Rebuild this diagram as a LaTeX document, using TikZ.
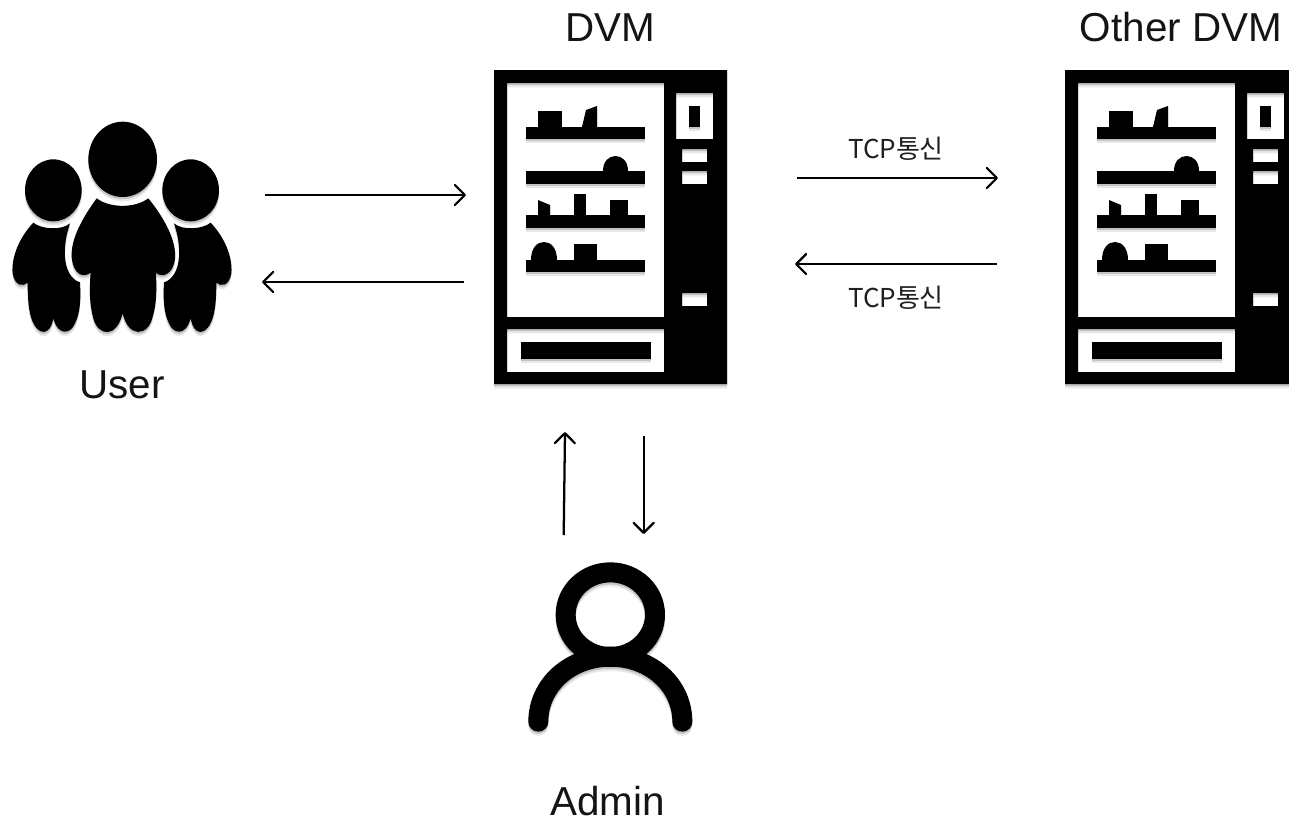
\documentclass[tikz,border=0pt]{standalone}
\usepackage{fontspec}
\setmainfont{Liberation Sans}
\newfontfamily\krfont{Noto Sans CJK KR}
\usetikzlibrary{arrows.meta}
\tikzset{
  x=0.75pt,y=-0.75pt,
  title/.style={inner sep=0pt,anchor=base,font=\fontsize{30.3}{34}\selectfont,text=black!92},
  tcplabel/.style={inner sep=0pt,anchor=base,font=\krfont\fontsize{19.5}{22}\selectfont,text=black!88},
  conn/.style={line width=1.7pt,-{Straight Barb[round,length=7.5pt,width=15pt,line width=1.7pt]}}
}
\newcommand\layered[1]{%
  \def\ic{black!9}\begin{scope}[yshift=-3.2pt]#1\end{scope}%
  \def\ic{black!24}\begin{scope}[yshift=-1.6pt]#1\end{scope}%
  \def\ic{black}#1}
\newcommand\vendingicon{%
  \fill[fill=\ic,even odd rule] (494,70) rectangle (727,384)
    (507,83) rectangle (664,317)
    (507,329) rectangle (664,372)
    (676,93) rectangle (713,139)
    (682,149) rectangle (707,162)
    (682,171) rectangle (707,184)
    (682,293) rectangle (707,306);
  \fill[fill=\ic] (521,342) rectangle (651,359);
  \fill[fill=\ic] (689,106) rectangle (700,127);
  \fill[fill=\ic] (526,127) rectangle (645,139);
  \fill[fill=\ic] (526,171) rectangle (645,184);
  \fill[fill=\ic] (526,215) rectangle (645,228);
  \fill[fill=\ic] (526,260) rectangle (645,272);
  \fill[fill=\ic] (538,111) rectangle (562,127);
  \fill[fill=\ic] (582,127) -- (586,110) -- (597,106) -- (597,127) -- cycle;
  \fill[fill=\ic] (603,171) .. controls (603,161) and (609,156) .. (615.5,156) .. controls (622,156) and (628,161) .. (628,171) -- cycle;
  \fill[fill=\ic] (538,200) -- (550,205) -- (550,215) -- (538,215) -- cycle;
  \fill[fill=\ic] (574,194) rectangle (586,215);
  \fill[fill=\ic] (610,200) rectangle (628,215);
  \fill[fill=\ic] (531,260) .. controls (531,248) and (537,242) .. (544,242) .. controls (551,242) and (557,248) .. (557,260) -- cycle;
  \fill[fill=\ic] (574,244) rectangle (597,260);
}
\newcommand\sideperson{%
  \fill[fill=\ic] (160,241) ellipse[x radius=85,y radius=93];
  \fill[fill=\ic] (100,338) .. controls (125,358) and (185,362) .. (210,340)
    .. controls (200,370) and (193,400) .. (195,440)
    .. controls (197,480) and (215,510) .. (240,517)
    .. controls (243,570) and (240,610) .. (225,640)
    .. controls (212,672) and (175,680) .. (160,625)
    .. controls (150,680) and (115,675) .. (98,635)
    .. controls (85,605) and (83,560) .. (83,518)
    .. controls (70,530) and (45,530) .. (38,490)
    .. controls (33,440) and (60,380) .. (100,338) -- cycle;
}
\newcommand\userscrowd{%
  \begin{scope}[shift={(0,110)},scale=1/3]
  \sideperson
  \begin{scope}[shift={(732,0)},xscale=-1]\sideperson\end{scope}
  \fill[fill=\ic] (368,148) ellipse[x radius=103,y radius=113];
  \fill[fill=\ic] (290,265) .. controls (330,295) and (405,295) .. (445,265)
    .. controls (490,320) and (530,390) .. (525,445)
    .. controls (520,495) and (485,505) .. (468,488)
    .. controls (470,540) and (470,580) .. (458,620)
    .. controls (445,680) and (385,685) .. (368,610)
    .. controls (350,685) and (295,680) .. (280,625)
    .. controls (268,580) and (268,540) .. (272,488)
    .. controls (250,505) and (220,495) .. (215,440)
    .. controls (212,385) and (250,320) .. (290,265) -- cycle;
  \end{scope}}
\newcommand\adminicon{%
  \begin{scope}[shift={(510,420)},scale=1/3]
  \draw[draw=\ic,line width=15pt] (301,584) ellipse[x radius=134,y radius=127];
  \draw[draw=\ic,line width=15pt,line cap=round] (85,905) .. controls (85,795) and (180,710) .. (301,710) .. controls (422,710) and (517,795) .. (517,905);
  \end{scope}}
\begin{document}
\begin{tikzpicture}
\useasboundingbox (0,0) rectangle (1289,819);
\fill[white] (0,0) rectangle (1289,819);
\begin{scope}
\clip (0,0) rectangle (1289,819);
\layered{\vendingicon}
\begin{scope}[xshift=428.25pt]\layered{\vendingicon}\end{scope}
\layered{\userscrowd}
\layered{\adminicon}
\end{scope}
% labels
\node[title] (tdvm) at (610.5,41) {DVM};
\node[title] (tother) at (1181,41) {Other DVM};
\node[title] (tuser) at (122,398) {User};
\node[title] (tadmin) at (607.5,815) {Admin};
\node[tcplabel] (tcpa) at (896,158) {TCP통신};
\node[tcplabel] (tcpb) at (896,307) {TCP통신};
% connector ends
\coordinate (ua) at (265,195); \coordinate (ub) at (466,195);
\coordinate (uc) at (464,282); \coordinate (ud) at (262,282);
\coordinate (ca) at (797,178); \coordinate (cb) at (998,178);
\coordinate (cc) at (997,264); \coordinate (cd) at (795,264);
\coordinate (aa) at (563.7,535); \coordinate (ab) at (565,432);
\coordinate (ac) at (643.7,436); \coordinate (ad) at (643.7,534);
\draw[conn] (ua) -- (ub);
\draw[conn] (uc) -- (ud);
\draw[conn] (ca) -- (cb);
\draw[conn] (cc) -- (cd);
\draw[conn] (aa) -- (ab);
\draw[conn] (ac) -- (ad);
\end{tikzpicture}
\end{document}
